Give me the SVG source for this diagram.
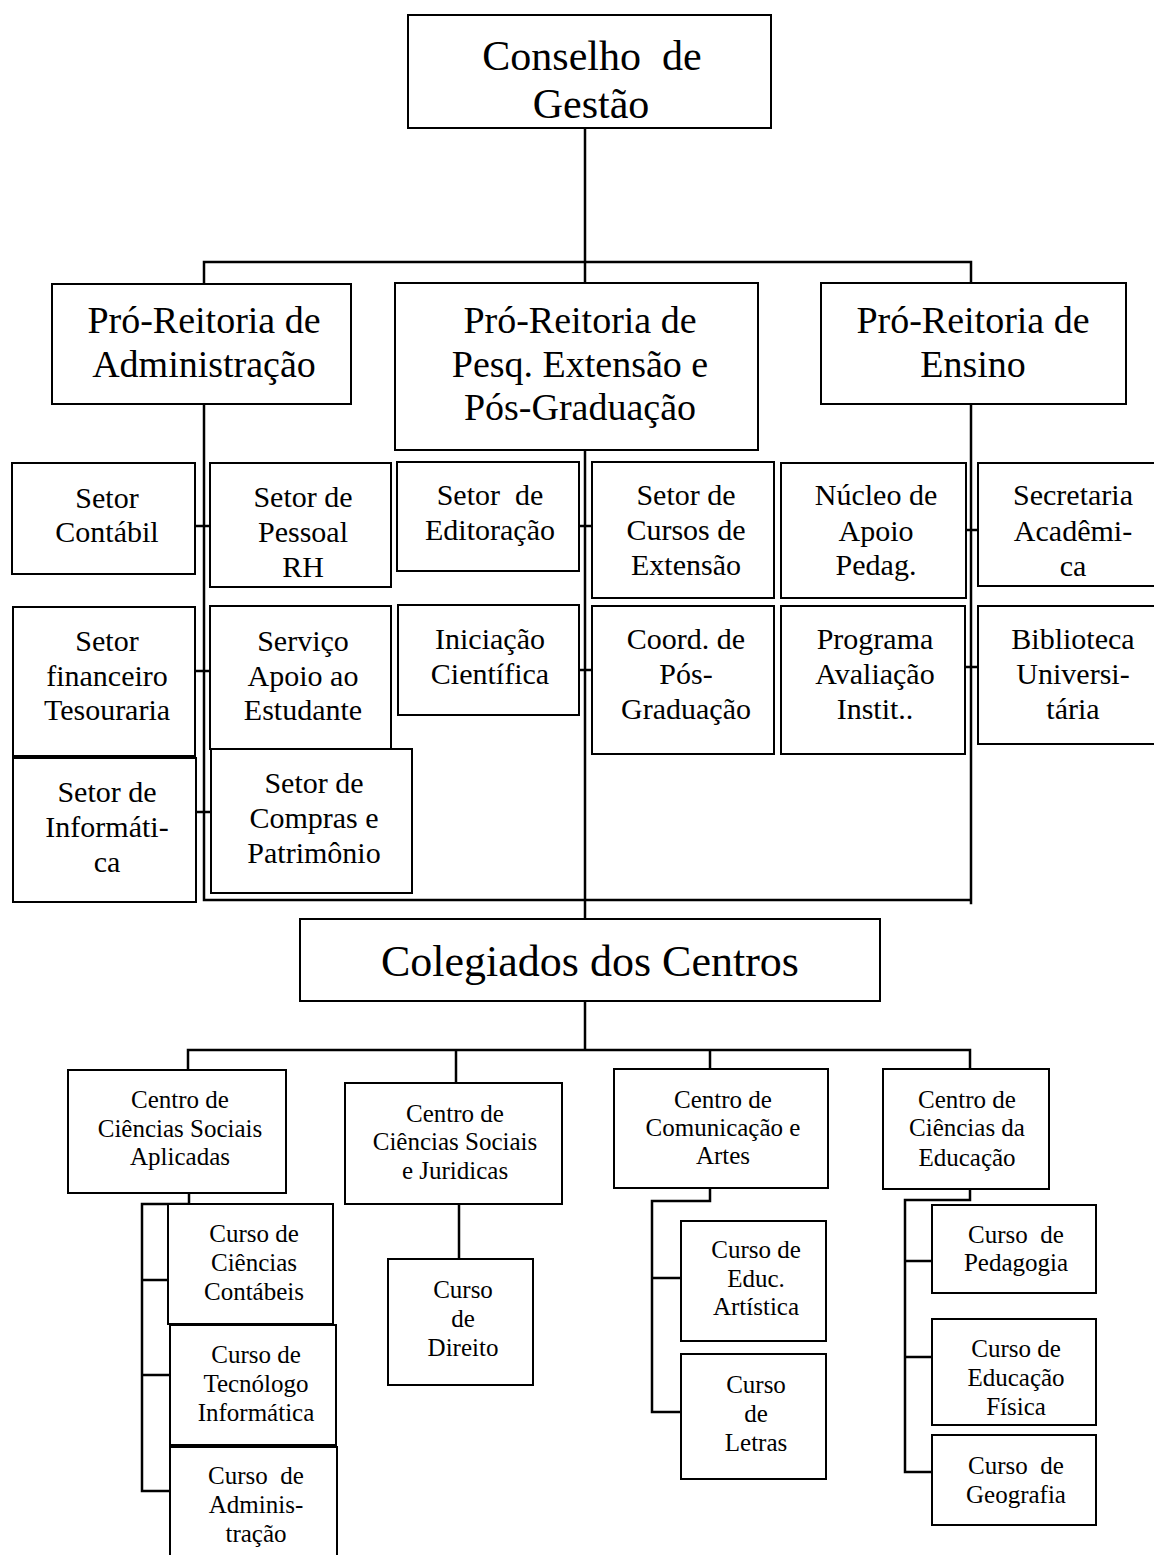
<svg xmlns="http://www.w3.org/2000/svg" width="1154" height="1555" viewBox="0 0 1154 1555">
  <style>
    .box { fill: #fff; stroke: #000; stroke-width: 2; }
    .ln { fill: none; stroke: #000; stroke-width: 2.5; stroke-linecap: square; }
    text { font-family: "Liberation Serif", "Times New Roman", serif; fill: #000; text-anchor: middle; white-space: pre; }
    .t42 { font-size: 42px; }
    .t38 { font-size: 38px; }
    .t30 { font-size: 30px; }
    .t44 { font-size: 44px; }
    .t25 { font-size: 25px; }
  </style>
  <rect width="1154" height="1555" fill="#fff"/>

  <!-- connectors -->
  <g id="connectors">
    <!-- council to pro-rectorates -->
    <path class="ln" d="M585 128 V283 M204 262 H971 M204 262 V284 M971 262 V283"/>
    <!-- pro-rectorate trunks and bottom bar -->
    <path class="ln" d="M204 404 V900 H971 M585 450 V919 M971 404 V903"/>
    <!-- ties from sectors to trunks -->
    <path class="ln" d="M195 526 H210 M195 671 H210 M196 812 H211"/>
    <path class="ln" d="M579 526 H592 M579 670 H592"/>
    <path class="ln" d="M966 530 H978 M965 667 H978"/>
    <!-- colegiados to centres -->
    <path class="ln" d="M585 1001 V1050 M188 1050 H970 M188 1050 V1070 M456 1050 V1083 M710 1050 V1069 M970 1050 V1069"/>
    <!-- CCSA courses -->
    <path class="ln" d="M189 1193 V1204 H142 V1491 H170 M142 1280 H168 M142 1375 H170"/>
    <!-- CCSJ course -->
    <path class="ln" d="M459 1204 V1259"/>
    <!-- CCA courses -->
    <path class="ln" d="M710 1188 V1201 H652 V1412 H681 M652 1278 H681"/>
    <!-- CCE courses -->
    <path class="ln" d="M970 1189 V1200 H905 V1472 H932 M905 1261 H932 M905 1357 H932"/>
  </g>

  <g id="conselho">
    <rect class="box" x="408" y="15" width="363" height="113"/>
    <text class="t42" x="592" y="70">Conselho  de</text>
    <text class="t42" x="591" y="118">Gestão</text>
  </g>

  <g id="pr-administracao">
    <rect class="box" x="52" y="284" width="299" height="120"/>
    <text class="t38" x="204" y="333">Pró-Reitoria de</text>
    <text class="t38" x="204" y="377">Administração</text>
  </g>
  <g id="pr-pesquisa">
    <rect class="box" x="395" y="283" width="363" height="167"/>
    <text class="t38" x="580" y="333">Pró-Reitoria de</text>
    <text class="t38" x="580" y="377">Pesq. Extensão e</text>
    <text class="t38" x="580" y="420">Pós-Graduação</text>
  </g>
  <g id="pr-ensino">
    <rect class="box" x="821" y="283" width="305" height="121"/>
    <text class="t38" x="973" y="333">Pró-Reitoria de</text>
    <text class="t38" x="973" y="377">Ensino</text>
  </g>

  <!-- sectors -->
  <g id="setor-contabil">
    <rect class="box" x="12" y="463" width="183" height="111"/>
    <text class="t30" x="107" y="508">Setor</text>
    <text class="t30" x="107" y="542">Contábil</text>
  </g>
  <g id="setor-pessoal">
    <rect class="box" x="210" y="463" width="181" height="124"/>
    <text class="t30" x="303" y="507">Setor de</text>
    <text class="t30" x="303" y="542">Pessoal</text>
    <text class="t30" x="303" y="577">RH</text>
  </g>
  <g id="setor-editoracao">
    <rect class="box" x="397" y="462" width="182" height="109"/>
    <text class="t30" x="490" y="505">Setor  de</text>
    <text class="t30" x="490" y="540">Editoração</text>
  </g>
  <g id="cursos-extensao">
    <rect class="box" x="592" y="462" width="182" height="136"/>
    <text class="t30" x="686" y="505">Setor de</text>
    <text class="t30" x="686" y="540">Cursos de</text>
    <text class="t30" x="686" y="575">Extensão</text>
  </g>
  <g id="nucleo-apoio">
    <rect class="box" x="781" y="463" width="185" height="135"/>
    <text class="t30" x="876" y="505">Núcleo de</text>
    <text class="t30" x="876" y="541">Apoio</text>
    <text class="t30" x="876" y="575">Pedag.</text>
  </g>
  <g id="secretaria">
    <rect class="box" x="978" y="463" width="190" height="123"/>
    <text class="t30" x="1073" y="505">Secretaria</text>
    <text class="t30" x="1073" y="541">Acadêmi-</text>
    <text class="t30" x="1073" y="576">ca</text>
  </g>
  <g id="setor-financeiro">
    <rect class="box" x="13" y="607" width="182" height="149"/>
    <text class="t30" x="107" y="651">Setor</text>
    <text class="t30" x="107" y="686">financeiro</text>
    <text class="t30" x="107" y="720">Tesouraria</text>
  </g>
  <g id="servico-apoio">
    <rect class="box" x="210" y="606" width="181" height="143"/>
    <text class="t30" x="303" y="651">Serviço</text>
    <text class="t30" x="303" y="686">Apoio ao</text>
    <text class="t30" x="303" y="720">Estudante</text>
  </g>
  <g id="iniciacao">
    <rect class="box" x="398" y="605" width="181" height="110"/>
    <text class="t30" x="490" y="649">Iniciação</text>
    <text class="t30" x="490" y="684">Científica</text>
  </g>
  <g id="coord-pos">
    <rect class="box" x="592" y="606" width="182" height="148"/>
    <text class="t30" x="686" y="649">Coord. de</text>
    <text class="t30" x="686" y="684">Pós-</text>
    <text class="t30" x="686" y="719">Graduação</text>
  </g>
  <g id="programa-avaliacao">
    <rect class="box" x="781" y="606" width="184" height="148"/>
    <text class="t30" x="875" y="649">Programa</text>
    <text class="t30" x="875" y="684">Avaliação</text>
    <text class="t30" x="875" y="719">Instit..</text>
  </g>
  <g id="biblioteca">
    <rect class="box" x="978" y="606" width="190" height="138"/>
    <text class="t30" x="1073" y="649">Biblioteca</text>
    <text class="t30" x="1073" y="684">Universi-</text>
    <text class="t30" x="1073" y="719">tária</text>
  </g>
  <g id="setor-informatica">
    <rect class="box" x="13" y="758" width="183" height="144"/>
    <text class="t30" x="107" y="802">Setor de</text>
    <text class="t30" x="107" y="837">Informáti-</text>
    <text class="t30" x="107" y="872">ca</text>
  </g>
  <g id="setor-compras">
    <rect class="box" x="211" y="749" width="201" height="144"/>
    <text class="t30" x="314" y="793">Setor de</text>
    <text class="t30" x="314" y="828">Compras e</text>
    <text class="t30" x="314" y="863">Patrimônio</text>
  </g>

  <g id="colegiados">
    <rect class="box" x="300" y="919" width="580" height="82"/>
    <text class="t44" x="590" y="976">Colegiados dos Centros</text>
  </g>

  <!-- centres -->
  <g id="ccsa">
    <rect class="box" x="68" y="1070" width="218" height="123"/>
    <text class="t25" x="180" y="1108">Centro de</text>
    <text class="t25" x="180" y="1137">Ciências Sociais</text>
    <text class="t25" x="180" y="1165">Aplicadas</text>
  </g>
  <g id="ccsj">
    <rect class="box" x="345" y="1083" width="217" height="121"/>
    <text class="t25" x="455" y="1122">Centro de</text>
    <text class="t25" x="455" y="1150">Ciências Sociais</text>
    <text class="t25" x="455" y="1179">e Juridicas</text>
  </g>
  <g id="cca">
    <rect class="box" x="614" y="1069" width="214" height="119"/>
    <text class="t25" x="723" y="1108">Centro de</text>
    <text class="t25" x="723" y="1136">Comunicação e</text>
    <text class="t25" x="723" y="1164">Artes</text>
  </g>
  <g id="cce">
    <rect class="box" x="883" y="1069" width="166" height="120"/>
    <text class="t25" x="967" y="1108">Centro de</text>
    <text class="t25" x="967" y="1136">Ciências da</text>
    <text class="t25" x="967" y="1166">Educação</text>
  </g>

  <!-- courses -->
  <g id="curso-contabeis">
    <rect class="box" x="168" y="1204" width="165" height="120"/>
    <text class="t25" x="254" y="1242">Curso de</text>
    <text class="t25" x="254" y="1271">Ciências</text>
    <text class="t25" x="254" y="1300">Contábeis</text>
  </g>
  <g id="curso-tecnologo">
    <rect class="box" x="170" y="1325" width="166" height="120"/>
    <text class="t25" x="256" y="1363">Curso de</text>
    <text class="t25" x="256" y="1392">Tecnólogo</text>
    <text class="t25" x="256" y="1421">Informática</text>
  </g>
  <g id="curso-administracao">
    <rect class="box" x="170" y="1447" width="167" height="120"/>
    <text class="t25" x="256" y="1484">Curso  de</text>
    <text class="t25" x="256" y="1513">Adminis-</text>
    <text class="t25" x="256" y="1542">tração</text>
  </g>
  <g id="curso-direito">
    <rect class="box" x="388" y="1259" width="145" height="126"/>
    <text class="t25" x="463" y="1298">Curso</text>
    <text class="t25" x="463" y="1327">de</text>
    <text class="t25" x="463" y="1356">Direito</text>
  </g>
  <g id="curso-artistica">
    <rect class="box" x="681" y="1221" width="145" height="120"/>
    <text class="t25" x="756" y="1258">Curso de</text>
    <text class="t25" x="756" y="1287">Educ.</text>
    <text class="t25" x="756" y="1315">Artística</text>
  </g>
  <g id="curso-letras">
    <rect class="box" x="681" y="1354" width="145" height="125"/>
    <text class="t25" x="756" y="1393">Curso</text>
    <text class="t25" x="756" y="1422">de</text>
    <text class="t25" x="756" y="1451">Letras</text>
  </g>
  <g id="curso-pedagogia">
    <rect class="box" x="932" y="1205" width="164" height="88"/>
    <text class="t25" x="1016" y="1243">Curso  de</text>
    <text class="t25" x="1016" y="1271">Pedagogia</text>
  </g>
  <g id="curso-edfisica">
    <rect class="box" x="932" y="1319" width="164" height="106"/>
    <text class="t25" x="1016" y="1357">Curso de</text>
    <text class="t25" x="1016" y="1386">Educação</text>
    <text class="t25" x="1016" y="1415">Física</text>
  </g>
  <g id="curso-geografia">
    <rect class="box" x="932" y="1435" width="164" height="90"/>
    <text class="t25" x="1016" y="1474">Curso  de</text>
    <text class="t25" x="1016" y="1503">Geografia</text>
  </g>
</svg>
